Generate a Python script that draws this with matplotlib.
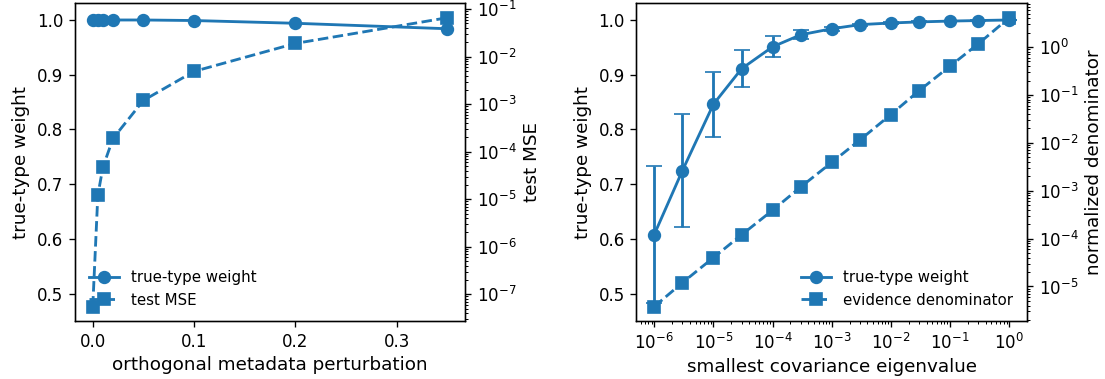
import numpy as np
import matplotlib
matplotlib.use("Agg")
import matplotlib.pyplot as plt

# --- datos panel izquierdo ---
perturbacion = [0.0, 0.005, 0.01, 0.02, 0.05, 0.1, 0.2, 0.35]
peso_izq = [1.0, 1.0, 1.0, 1.0, 1.0, 0.999, 0.994, 0.984]
mse_test = [5.5e-8, 1.2e-5, 4.7e-5, 1.9e-4, 1.2e-3, 4.9e-3, 1.9e-2, 6.6e-2]

# --- datos panel derecho ---
autovalor = [1e-6, 3e-6, 1e-5, 3e-5, 1e-4, 3e-4, 1e-3, 3e-3, 1e-2, 3e-2, 1e-1, 3e-1, 1.0]
peso_der = [0.608, 0.725, 0.846, 0.911, 0.951, 0.973, 0.984, 0.9915, 0.9945, 0.9965, 0.998, 0.999, 1.0]
peso_err = [0.125, 0.1035, 0.059, 0.034, 0.019, 0.008, 0.004, 0.002, 0.001, 0.001, 0.0005, 0.0003, 0.0]
denominador = [3.8e-6, 1.2e-5, 4.0e-5, 1.2e-4, 3.9e-4, 1.2e-3, 3.9e-3, 1.15e-2, 3.9e-2, 0.123, 0.40, 1.17, 4.1]

plt.rcParams["font.size"] = 10
plt.rcParams["axes.labelsize"] = 11
plt.rcParams["legend.fontsize"] = 9
plt.rcParams["lines.linewidth"] = 1.7

color = "C0"
ms = 7

fig = plt.figure(figsize=(1105 / 120, 379 / 120), dpi=120)
ax1 = fig.add_axes([0.0679, 0.153, 0.3529, 0.8383])
ax2 = fig.add_axes([0.5760, 0.153, 0.3534, 0.8383])

# panel izquierdo
l1, = ax1.plot(perturbacion, peso_izq, "o-", color=color, ms=ms, label="true-type weight")
ax1.set_ylim(0.45, 1.0305)
ax1.set_xlabel("orthogonal metadata perturbation", labelpad=3)
ax1.set_ylabel("true-type weight")
ax1b = ax1.twinx()
l2, = ax1b.plot(perturbacion, mse_test, "s--", color=color, ms=ms, label="test MSE")
ax1b.set_yscale("log")
ax1b.set_ylabel("test MSE")
ax1b.legend([l1, l2], [l1.get_label(), l2.get_label()], loc="lower left", frameon=False)

# panel derecho
ax2.errorbar(autovalor, peso_der, yerr=peso_err, fmt="none", ecolor=color, capsize=5, elinewidth=1.7)
l3, = ax2.plot(autovalor, peso_der, "o-", color=color, ms=ms, label="true-type weight")
ax2.set_xscale("log")
ax2.set_ylim(0.45, 1.0305)
ax2.set_xlabel("smallest covariance eigenvalue", labelpad=3)
ax2.set_ylabel("true-type weight")
ax2b = ax2.twinx()
l4, = ax2b.plot(autovalor, denominador, "s--", color=color, ms=ms, label="evidence denominator")
ax2b.set_yscale("log")
ax2b.set_ylabel("normalized denominator")
ax2b.legend([l3, l4], [l3.get_label(), l4.get_label()], loc="lower right", frameon=False)

fig.savefig("out.png", dpi=120)
